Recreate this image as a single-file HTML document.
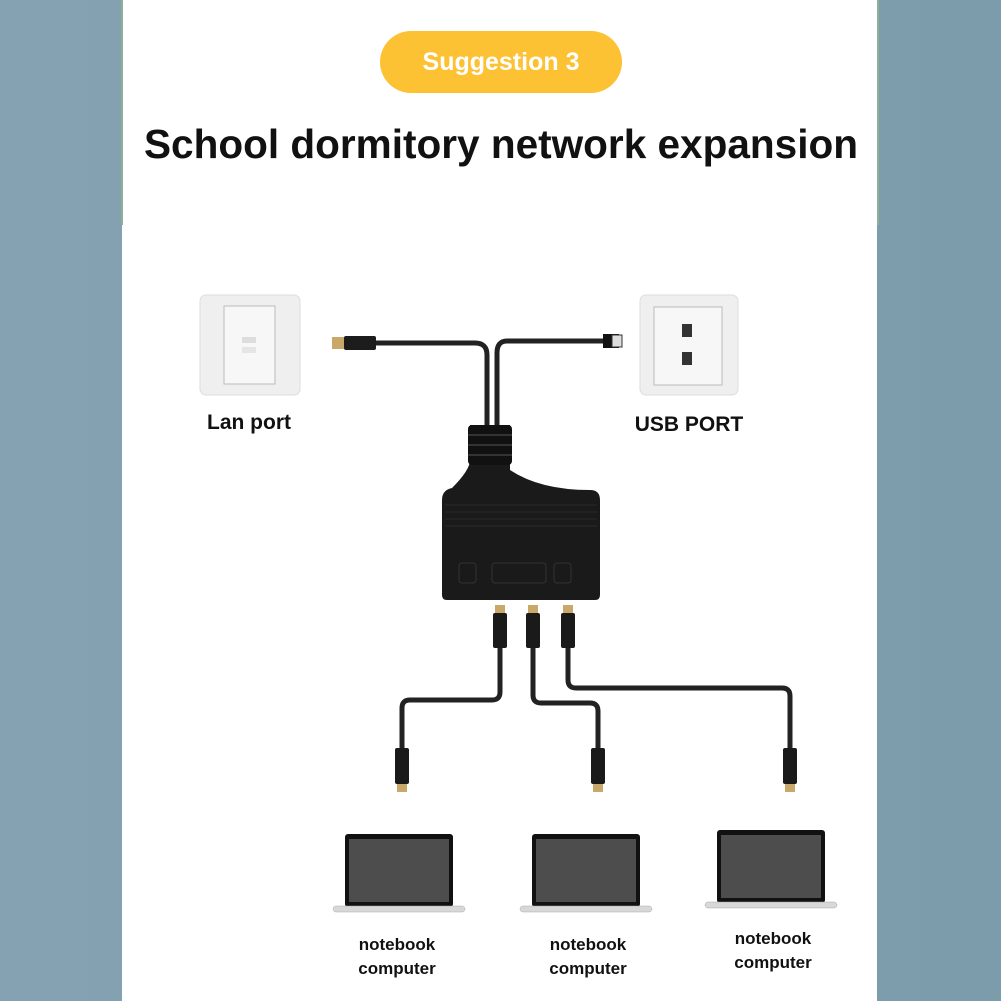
<!DOCTYPE html>
<html><head><style>
body{margin:0;width:1001px;height:1001px;overflow:hidden;background:#7f9fb0;font-family:"Liberation Sans",sans-serif}
</style></head><body>
<svg width="1001" height="1001" viewBox="0 0 1001 1001" xmlns="http://www.w3.org/2000/svg" style="position:absolute;left:0;top:0">
<defs>
<linearGradient id="bg" x1="0" x2="1"><stop offset="0" stop-color="#84a2b2"/><stop offset="1" stop-color="#7c9bab"/></linearGradient>
</defs>
<rect width="1001" height="1001" fill="url(#bg)"/>
<rect x="122" y="0" width="755" height="1001" fill="#fff"/>
<rect x="121" y="0" width="2" height="225" fill="#8fae95"/>
<rect x="877" y="0" width="2" height="225" fill="#8fae95"/>
<rect x="380" y="31" width="242" height="62" rx="31" fill="#fdc134"/>
<text x="501" y="70" text-anchor="middle" font-size="25" font-weight="bold" fill="#fff">Suggestion 3</text>
<text x="501" y="158" text-anchor="middle" font-size="41" font-weight="bold" fill="#111" textLength="714" lengthAdjust="spacingAndGlyphs">School dormitory network expansion</text>
<!-- lan plate -->
<rect x="200" y="295" width="100" height="100" rx="6" fill="#efefef" stroke="#ddd"/>
<rect x="224" y="306" width="51" height="78" fill="#f7f7f7" stroke="#bbb"/>
<rect x="242" y="337" width="14" height="6" fill="#ddd"/><rect x="242" y="347" width="14" height="6" fill="#e5e5e5"/>
<text x="249" y="429" text-anchor="middle" font-size="21" font-weight="bold" fill="#111">Lan port</text>
<!-- usb plate -->
<rect x="640" y="295" width="98" height="100" rx="6" fill="#efefef" stroke="#ddd"/>
<rect x="654" y="307" width="68" height="78" fill="#f7f7f7" stroke="#bbb"/>
<rect x="682" y="324" width="10" height="13" fill="#333"/><rect x="682" y="352" width="10" height="13" fill="#333"/>
<text x="689" y="431" text-anchor="middle" font-size="21" font-weight="bold" fill="#111">USB PORT</text>
<!-- cables top -->
<g fill="none" stroke="#222" stroke-width="5">
<path d="M375 343 H475 Q487 343 487 355 V430"/>
<path d="M603 341 H507 Q497 341 497 353 V430"/>
<path d="M500 640 V692 Q500 700 492 700 H410 Q402 700 402 708 V755"/>
<path d="M533 640 V695 Q533 703 541 703 H590 Q598 703 598 711 V755"/>
<path d="M568 640 V680 Q568 688 576 688 H782 Q790 688 790 696 V755"/>
</g>
<rect x="332" y="337" width="12" height="12" fill="#c9a86a"/><rect x="344" y="336" width="32" height="14" rx="2" fill="#1c1c1c"/>
<rect x="603" y="334" width="16" height="14" fill="#111"/><rect x="612" y="335" width="10" height="12" fill="#ddd" stroke="#333"/>
<!-- device -->
<path d="M470 425 H510 V470 Q540 490 590 490 Q600 490 600 500 V595 Q600 600 595 600 H447 Q442 600 442 595 V500 Q442 490 452 488 Q470 470 470 460 Z" fill="#1a1a1a"/>
<rect x="468" y="425" width="44" height="40" rx="4" fill="#111"/>
<g stroke="#333" stroke-width="2"><line x1="468" y1="435" x2="512" y2="435"/><line x1="468" y1="445" x2="512" y2="445"/><line x1="468" y1="455" x2="512" y2="455"/></g>
<g stroke="#2a2a2a" stroke-width="1"><line x1="445" y1="505" x2="597" y2="505"/><line x1="445" y1="512" x2="597" y2="512"/><line x1="445" y1="519" x2="597" y2="519"/><line x1="445" y1="526" x2="597" y2="526"/></g>
<g fill="none" stroke="#333"><rect x="459" y="563" width="17" height="20" rx="3"/><rect x="492" y="563" width="54" height="20" rx="3"/><rect x="554" y="563" width="17" height="20" rx="3"/></g>
<!-- rj45 -->
<g>
<rect x="495" y="605" width="10" height="8" fill="#c9a86a"/><rect x="493" y="613" width="14" height="35" rx="2" fill="#1a1a1a"/>
<rect x="528" y="605" width="10" height="8" fill="#c9a86a"/><rect x="526" y="613" width="14" height="35" rx="2" fill="#1a1a1a"/>
<rect x="563" y="605" width="10" height="8" fill="#c9a86a"/><rect x="561" y="613" width="14" height="35" rx="2" fill="#1a1a1a"/>
<rect x="395" y="748" width="14" height="36" rx="2" fill="#1a1a1a"/><rect x="397" y="784" width="10" height="8" fill="#c9a86a"/>
<rect x="591" y="748" width="14" height="36" rx="2" fill="#1a1a1a"/><rect x="593" y="784" width="10" height="8" fill="#c9a86a"/>
<rect x="783" y="748" width="14" height="36" rx="2" fill="#1a1a1a"/><rect x="785" y="784" width="10" height="8" fill="#c9a86a"/>
</g>
<!-- laptops -->
<g id="lp">
<rect x="345" y="834" width="108" height="73" rx="3" fill="#111"/>
<rect x="349" y="839" width="100" height="63" fill="#4d4d4d"/>
<rect x="333" y="906" width="132" height="6" rx="3" fill="#d8d8d8" stroke="#aaa" stroke-width="0.5"/>
</g>
<use href="#lp" x="187"/>
<use href="#lp" x="372" y="-4"/>
<g font-size="17" font-weight="bold" fill="#111" text-anchor="middle">
<text x="397" y="950">notebook</text><text x="397" y="974">computer</text>
<text x="588" y="950">notebook</text><text x="588" y="974">computer</text>
<text x="773" y="944">notebook</text><text x="773" y="968">computer</text>
</g>
</svg>
</body></html>
